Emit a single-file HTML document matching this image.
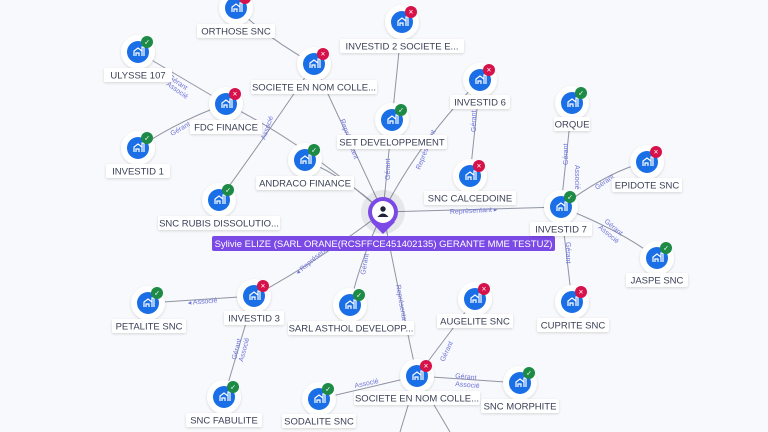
<!DOCTYPE html>
<html><head><meta charset="utf-8"><style>
html,body{margin:0;padding:0;background:#f8f9fc;}
svg{display:block;font-family:"Liberation Sans",sans-serif;}
.lbl{font-size:9.5px;fill:#3a3f55;text-anchor:middle;}
.el{font-size:7px;fill:#6f74d8;}
</style></head><body>
<svg width="768" height="432" viewBox="0 0 768 432" xmlns="http://www.w3.org/2000/svg">
<defs>
<filter id="sh" x="-50%" y="-50%" width="200%" height="200%"><feDropShadow dx="0" dy="1" stdDeviation="1.2" flood-color="#000" flood-opacity="0.15"/></filter>
<g id="bld"><path d="M-4,4 V-1 L0,-4 L4,-1 V4 M-2,4 V1 H1 V4 M4,4 V-5 H6 V4" fill="none" stroke="#fff" stroke-width="1.2"/></g>
</defs>
<g stroke="#8f94a3" stroke-width="1" fill="none">
<path d="M383,212 Q340,120 314,64"/>
<path d="M314,64 Q270,40 236,8"/>
<path d="M314,64 Q270,130 219,200"/>
<path d="M226,104 Q300,140 383,212"/>
<path d="M226,104 L138,52"/>
<path d="M226,104 Q180,120 138,148"/>
<path d="M305,160 Q350,180 383,212"/>
<path d="M402,22 L392,120"/>
<path d="M392,120 L383,212"/>
<path d="M480,80 Q420,140 383,212"/>
<path d="M480,80 L470,176"/>
<path d="M383,212 L561,207"/>
<path d="M561,207 L572,103"/>
<path d="M561,207 Q610,170 647,162"/>
<path d="M561,207 Q620,230 657,258"/>
<path d="M561,207 L572,302"/>
<path d="M383,212 Q320,260 254,296"/>
<path d="M383,212 Q360,260 350,305"/>
<path d="M383,212 Q400,300 417,376"/>
<path d="M254,296 L148,303"/>
<path d="M254,296 L224,397"/>
<path d="M417,376 L475,299"/>
<path d="M417,376 L520,383"/>
<path d="M417,376 L319,399"/>
<path d="M417,376 L400,432"/>
<path d="M417,376 L450,432"/>
</g>
<g class="el">
<text x="450" y="214" transform="rotate(-3 450 214)">Représentant ▸</text>
<text x="168" y="78" transform="rotate(35 168 78)">Gérant</text>
<text x="166" y="85" transform="rotate(35 166 85)">Associé</text>
<text x="172" y="136" transform="rotate(-30 172 136)">Gérant</text>
<text x="265" y="140" transform="rotate(-70 265 140)">Associé</text>
<text x="340" y="120" transform="rotate(70 340 120)">Représentant</text>
<text x="420" y="170" transform="rotate(-68 420 170)">Représentant</text>
<text x="476" y="132" transform="rotate(-90 476 132)">Gérant</text>
<text x="390" y="180" transform="rotate(-90 390 180)">Gérant</text>
<text x="568" y="165" transform="rotate(-90 568 165)">Gérant</text>
<text x="575" y="165" transform="rotate(90 575 165)">Associé</text>
<text x="597" y="190" transform="rotate(-35 597 190)">Gérant</text>
<text x="604" y="222" transform="rotate(40 604 222)">Gérant</text>
<text x="598" y="228" transform="rotate(40 598 228)">Associé</text>
<text x="566" y="242" transform="rotate(90 566 242)">Gérant</text>
<text x="188" y="305" transform="rotate(-5 188 305)">◂ Associé</text>
<text x="298" y="275" transform="rotate(-40 298 275)">◂ Représentant</text>
<text x="365" y="275" transform="rotate(-80 365 275)">Gérant</text>
<text x="396" y="285" transform="rotate(80 396 285)">Représentant</text>
<text x="236" y="360" transform="rotate(-75 236 360)">Gérant</text>
<text x="243" y="362" transform="rotate(-75 243 362)">Associé</text>
<text x="444" y="362" transform="rotate(-65 444 362)">Gérant</text>
<text x="455" y="378" transform="rotate(5 455 378)">Gérant</text>
<text x="455" y="386" transform="rotate(5 455 386)">Associé</text>
<text x="355" y="388" transform="rotate(-12 355 388)">Associé</text>
</g>
<g>
<circle cx="383" cy="212" r="22" fill="#000" opacity="0.07"/>
<path d="M371,222 L383,234 L395,222 Z" fill="#7b4ae6"/>
<circle cx="383" cy="212" r="15" fill="#7b4ae6"/>
<circle cx="383" cy="212" r="11" fill="#fff"/>
<circle cx="383" cy="209" r="2.7" fill="#1f2238"/>
<path d="M377.5,217 Q383,210 388.5,217 Z" fill="#1f2238"/>
<rect x="212" y="236" width="343" height="15" rx="2" fill="#7b4ae6"/>
<text x="383.5" y="247" font-size="9.5" fill="#fff" text-anchor="middle">Sylivie ELIZE (SARL ORANE(RCSFFCE451402135) GERANTE MME TESTUZ)</text>
</g>
<g id="nodes">
<g transform="translate(236,8)"><circle r="17" fill="#fff" filter="url(#sh)"/><circle r="11" fill="#1a6fe6"/><use href="#bld"/><circle cx="9" cy="-10" r="6" fill="#d6124a"/><text x="9" y="-7.5" font-size="8" fill="#fff" text-anchor="middle">×</text></g>
<g transform="translate(402,22)"><circle r="17" fill="#fff" filter="url(#sh)"/><circle r="11" fill="#1a6fe6"/><use href="#bld"/><circle cx="9" cy="-10" r="6" fill="#d6124a"/><text x="9" y="-7.5" font-size="8" fill="#fff" text-anchor="middle">×</text></g>
<g transform="translate(138,52)"><circle r="17" fill="#fff" filter="url(#sh)"/><circle r="11" fill="#1a6fe6"/><use href="#bld"/><circle cx="9" cy="-10" r="6" fill="#1d8a45"/><text x="9" y="-7.5" font-size="7" fill="#fff" text-anchor="middle">✓</text></g>
<g transform="translate(314,64)"><circle r="17" fill="#fff" filter="url(#sh)"/><circle r="11" fill="#1a6fe6"/><use href="#bld"/><circle cx="9" cy="-10" r="6" fill="#d6124a"/><text x="9" y="-7.5" font-size="8" fill="#fff" text-anchor="middle">×</text></g>
<g transform="translate(480,80)"><circle r="17" fill="#fff" filter="url(#sh)"/><circle r="11" fill="#1a6fe6"/><use href="#bld"/><circle cx="9" cy="-10" r="6" fill="#d6124a"/><text x="9" y="-7.5" font-size="8" fill="#fff" text-anchor="middle">×</text></g>
<g transform="translate(572,103)"><circle r="17" fill="#fff" filter="url(#sh)"/><circle r="11" fill="#1a6fe6"/><use href="#bld"/><circle cx="9" cy="-10" r="6" fill="#1d8a45"/><text x="9" y="-7.5" font-size="7" fill="#fff" text-anchor="middle">✓</text></g>
<g transform="translate(226,104)"><circle r="17" fill="#fff" filter="url(#sh)"/><circle r="11" fill="#1a6fe6"/><use href="#bld"/><circle cx="9" cy="-10" r="6" fill="#d6124a"/><text x="9" y="-7.5" font-size="8" fill="#fff" text-anchor="middle">×</text></g>
<g transform="translate(392,120)"><circle r="17" fill="#fff" filter="url(#sh)"/><circle r="11" fill="#1a6fe6"/><use href="#bld"/><circle cx="9" cy="-10" r="6" fill="#1d8a45"/><text x="9" y="-7.5" font-size="7" fill="#fff" text-anchor="middle">✓</text></g>
<g transform="translate(138,148)"><circle r="17" fill="#fff" filter="url(#sh)"/><circle r="11" fill="#1a6fe6"/><use href="#bld"/><circle cx="9" cy="-10" r="6" fill="#1d8a45"/><text x="9" y="-7.5" font-size="7" fill="#fff" text-anchor="middle">✓</text></g>
<g transform="translate(305,160)"><circle r="17" fill="#fff" filter="url(#sh)"/><circle r="11" fill="#1a6fe6"/><use href="#bld"/><circle cx="9" cy="-10" r="6" fill="#1d8a45"/><text x="9" y="-7.5" font-size="7" fill="#fff" text-anchor="middle">✓</text></g>
<g transform="translate(647,162)"><circle r="17" fill="#fff" filter="url(#sh)"/><circle r="11" fill="#1a6fe6"/><use href="#bld"/><circle cx="9" cy="-10" r="6" fill="#d6124a"/><text x="9" y="-7.5" font-size="8" fill="#fff" text-anchor="middle">×</text></g>
<g transform="translate(470,176)"><circle r="17" fill="#fff" filter="url(#sh)"/><circle r="11" fill="#1a6fe6"/><use href="#bld"/><circle cx="9" cy="-10" r="6" fill="#d6124a"/><text x="9" y="-7.5" font-size="8" fill="#fff" text-anchor="middle">×</text></g>
<g transform="translate(219,200)"><circle r="17" fill="#fff" filter="url(#sh)"/><circle r="11" fill="#1a6fe6"/><use href="#bld"/><circle cx="9" cy="-10" r="6" fill="#1d8a45"/><text x="9" y="-7.5" font-size="7" fill="#fff" text-anchor="middle">✓</text></g>
<g transform="translate(561,207)"><circle r="17" fill="#fff" filter="url(#sh)"/><circle r="11" fill="#1a6fe6"/><use href="#bld"/><circle cx="9" cy="-10" r="6" fill="#1d8a45"/><text x="9" y="-7.5" font-size="7" fill="#fff" text-anchor="middle">✓</text></g>
<g transform="translate(657,258)"><circle r="17" fill="#fff" filter="url(#sh)"/><circle r="11" fill="#1a6fe6"/><use href="#bld"/><circle cx="9" cy="-10" r="6" fill="#1d8a45"/><text x="9" y="-7.5" font-size="7" fill="#fff" text-anchor="middle">✓</text></g>
<g transform="translate(148,303)"><circle r="17" fill="#fff" filter="url(#sh)"/><circle r="11" fill="#1a6fe6"/><use href="#bld"/><circle cx="9" cy="-10" r="6" fill="#1d8a45"/><text x="9" y="-7.5" font-size="7" fill="#fff" text-anchor="middle">✓</text></g>
<g transform="translate(254,296)"><circle r="17" fill="#fff" filter="url(#sh)"/><circle r="11" fill="#1a6fe6"/><use href="#bld"/><circle cx="9" cy="-10" r="6" fill="#d6124a"/><text x="9" y="-7.5" font-size="8" fill="#fff" text-anchor="middle">×</text></g>
<g transform="translate(350,305)"><circle r="17" fill="#fff" filter="url(#sh)"/><circle r="11" fill="#1a6fe6"/><use href="#bld"/><circle cx="9" cy="-10" r="6" fill="#1d8a45"/><text x="9" y="-7.5" font-size="7" fill="#fff" text-anchor="middle">✓</text></g>
<g transform="translate(475,299)"><circle r="17" fill="#fff" filter="url(#sh)"/><circle r="11" fill="#1a6fe6"/><use href="#bld"/><circle cx="9" cy="-10" r="6" fill="#d6124a"/><text x="9" y="-7.5" font-size="8" fill="#fff" text-anchor="middle">×</text></g>
<g transform="translate(572,302)"><circle r="17" fill="#fff" filter="url(#sh)"/><circle r="11" fill="#1a6fe6"/><use href="#bld"/><circle cx="9" cy="-10" r="6" fill="#d6124a"/><text x="9" y="-7.5" font-size="8" fill="#fff" text-anchor="middle">×</text></g>
<g transform="translate(417,376)"><circle r="17" fill="#fff" filter="url(#sh)"/><circle r="11" fill="#1a6fe6"/><use href="#bld"/><circle cx="9" cy="-10" r="6" fill="#d6124a"/><text x="9" y="-7.5" font-size="8" fill="#fff" text-anchor="middle">×</text></g>
<g transform="translate(520,383)"><circle r="17" fill="#fff" filter="url(#sh)"/><circle r="11" fill="#1a6fe6"/><use href="#bld"/><circle cx="9" cy="-10" r="6" fill="#1d8a45"/><text x="9" y="-7.5" font-size="7" fill="#fff" text-anchor="middle">✓</text></g>
<g transform="translate(224,397)"><circle r="17" fill="#fff" filter="url(#sh)"/><circle r="11" fill="#1a6fe6"/><use href="#bld"/><circle cx="9" cy="-10" r="6" fill="#1d8a45"/><text x="9" y="-7.5" font-size="7" fill="#fff" text-anchor="middle">✓</text></g>
<g transform="translate(319,399)"><circle r="17" fill="#fff" filter="url(#sh)"/><circle r="11" fill="#1a6fe6"/><use href="#bld"/><circle cx="9" cy="-10" r="6" fill="#1d8a45"/><text x="9" y="-7.5" font-size="7" fill="#fff" text-anchor="middle">✓</text></g>
</g>
<g>
<rect x="197" y="24" width="78" height="14" rx="2" fill="#fff" filter="url(#sh)"/><text class="lbl" x="236" y="34.5">ORTHOSE SNC</text>
<rect x="340" y="39" width="124" height="14" rx="2" fill="#fff" filter="url(#sh)"/><text class="lbl" x="402" y="49.5">INVESTID 2 SOCIETE E...</text>
<rect x="104" y="68" width="68" height="14" rx="2" fill="#fff" filter="url(#sh)"/><text class="lbl" x="138" y="78.5">ULYSSE 107</text>
<rect x="251" y="80" width="126" height="14" rx="2" fill="#fff" filter="url(#sh)"/><text class="lbl" x="314" y="90.5">SOCIETE EN NOM COLLE...</text>
<rect x="450" y="95" width="60" height="14" rx="2" fill="#fff" filter="url(#sh)"/><text class="lbl" x="480" y="105.5">INVESTID 6</text>
<rect x="554" y="117" width="36" height="14" rx="2" fill="#fff" filter="url(#sh)"/><text class="lbl" x="572" y="127.5">ORQUE</text>
<rect x="190" y="120" width="72" height="14" rx="2" fill="#fff" filter="url(#sh)"/><text class="lbl" x="226" y="130.5">FDC FINANCE</text>
<rect x="337" y="135" width="110" height="14" rx="2" fill="#fff" filter="url(#sh)"/><text class="lbl" x="392" y="145.5">SET DEVELOPPEMENT</text>
<rect x="106" y="164" width="64" height="14" rx="2" fill="#fff" filter="url(#sh)"/><text class="lbl" x="138" y="174.5">INVESTID 1</text>
<rect x="256" y="176" width="98" height="14" rx="2" fill="#fff" filter="url(#sh)"/><text class="lbl" x="305" y="186.5">ANDRACO FINANCE</text>
<rect x="612" y="178" width="70" height="14" rx="2" fill="#fff" filter="url(#sh)"/><text class="lbl" x="647" y="188.5">EPIDOTE SNC</text>
<rect x="424" y="191" width="92" height="14" rx="2" fill="#fff" filter="url(#sh)"/><text class="lbl" x="470" y="201.5">SNC CALCEDOINE</text>
<rect x="158" y="216" width="122" height="14" rx="2" fill="#fff" filter="url(#sh)"/><text class="lbl" x="219" y="226.5">SNC RUBIS DISSOLUTIO...</text>
<rect x="530" y="222" width="62" height="14" rx="2" fill="#fff" filter="url(#sh)"/><text class="lbl" x="561" y="232.5">INVESTID 7</text>
<rect x="626" y="273" width="62" height="14" rx="2" fill="#fff" filter="url(#sh)"/><text class="lbl" x="657" y="283.5">JASPE SNC</text>
<rect x="112" y="319" width="74" height="14" rx="2" fill="#fff" filter="url(#sh)"/><text class="lbl" x="149" y="329.5">PETALITE SNC</text>
<rect x="224" y="311" width="60" height="14" rx="2" fill="#fff" filter="url(#sh)"/><text class="lbl" x="254" y="321.5">INVESTID 3</text>
<rect x="288" y="321" width="126" height="14" rx="2" fill="#fff" filter="url(#sh)"/><text class="lbl" x="351" y="331.5">SARL ASTHOL DEVELOPP...</text>
<rect x="437" y="314" width="76" height="14" rx="2" fill="#fff" filter="url(#sh)"/><text class="lbl" x="475" y="324.5">AUGELITE SNC</text>
<rect x="537" y="318" width="72" height="14" rx="2" fill="#fff" filter="url(#sh)"/><text class="lbl" x="573" y="328.5">CUPRITE SNC</text>
<rect x="354" y="391" width="126" height="14" rx="2" fill="#fff" filter="url(#sh)"/><text class="lbl" x="417" y="401.5">SOCIETE EN NOM COLLE...</text>
<rect x="481" y="399" width="78" height="14" rx="2" fill="#fff" filter="url(#sh)"/><text class="lbl" x="520" y="409.5">SNC MORPHITE</text>
<rect x="186" y="413" width="76" height="14" rx="2" fill="#fff" filter="url(#sh)"/><text class="lbl" x="224" y="423.5">SNC FABULITE</text>
<rect x="282" y="414" width="74" height="14" rx="2" fill="#fff" filter="url(#sh)"/><text class="lbl" x="319" y="424.5">SODALITE SNC</text>
</g>
</svg>
</body></html>
